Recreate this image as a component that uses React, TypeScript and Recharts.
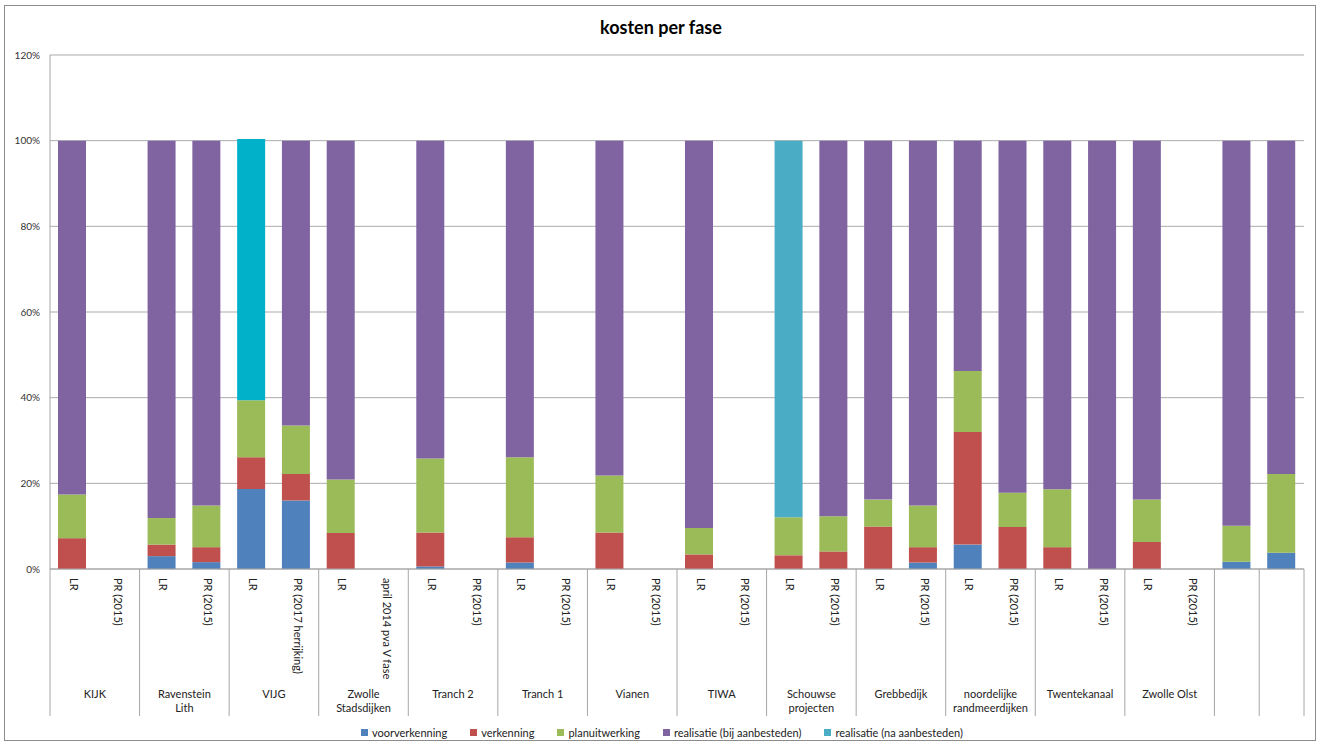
import React from "react";
import { BarChart, Bar, XAxis, YAxis, CartesianGrid, Legend, Cell } from "recharts";

// group each category belongs to (last two bars have their own unnamed group)
const groupNames = [
  "KIJK", "Ravenstein\nLith", "VIJG", "Zwolle\nStadsdijken", "Tranch 2", "Tranch 1", "Vianen",
  "TIWA", "Schouwse\nprojecten", "Grebbedijk", "noordelijke\nrandmeerdijken", "Twentekanaal",
  "Zwolle Olst", "", "",
];
const groupOf = [0, 0, 1, 1, 2, 2, 3, 3, 4, 4, 5, 5, 6, 6, 7, 7, 8, 8, 9, 9, 10, 10, 11, 11, 12, 12, 13, 14];
const subLabels = [
  "LR", "PR (2015)", "LR", "PR (2015)", "LR", "PR (2017  herrijking)", "LR", "april 2014 pva V fase",
  "LR", "PR (2015)", "LR", "PR (2015)", "LR", "PR (2015)", "LR", "PR (2015)", "LR", "PR (2015)",
  "LR", "PR (2015)", "LR", "PR (2015)", "LR", "PR (2015)", "LR", "PR (2015)", "", "",
];

// share per phase, in %
const voorverkenning = [0, 0, 3.0, 1.6, 18.7, 16.0, 0, 0, 0.6, 0, 1.5, 0, 0, 0, 0, 0, 0, 0, 0, 1.5, 5.7, 0, 0, 0, 0, 0, 1.7, 3.8];
const verkenning = [7.2, 0, 2.7, 3.5, 7.4, 6.2, 8.4, 0, 7.9, 0, 5.9, 0, 8.5, 0, 3.4, 0, 3.2, 4.1, 9.9, 3.6, 26.3, 9.8, 5.1, 0, 6.3, 0, 0, 0];
const planuitwerking = [10.2, 0, 6.2, 9.7, 13.3, 11.3, 12.5, 0, 17.3, 0, 18.7, 0, 13.3, 0, 6.2, 0, 8.9, 8.2, 6.3, 9.7, 14.2, 8.0, 13.5, 0, 9.9, 0, 8.4, 18.4];
const realisatieBij = [82.6, 0, 88.1, 85.2, 0, 66.5, 79.1, 0, 74.2, 0, 73.9, 0, 78.2, 0, 90.4, 0, 0, 87.7, 83.8, 85.2, 53.8, 82.2, 81.4, 100, 83.8, 0, 89.9, 77.8];
const realisatieNa = [0, 0, 0, 0, 61.0, 0, 0, 0, 0, 0, 0, 0, 0, 0, 0, 0, 87.9, 0, 0, 0, 0, 0, 0, 0, 0, 0, 0, 0];

const yTicks = [0, 20, 40, 60, 80, 100, 120];

const data = subLabels.map((s, i) => ({
  cat: `${i}`,
  voorverkenning: voorverkenning[i],
  verkenning: verkenning[i],
  planuitwerking: planuitwerking[i],
  realisatieBij: realisatieBij[i],
  realisatieNa: realisatieNa[i],
}));

const series = [
  { key: "voorverkenning", name: "voorverkenning", color: "#4F81BD" },
  { key: "verkenning", name: "verkenning", color: "#C0504D" },
  { key: "planuitwerking", name: "planuitwerking", color: "#9BBB59" },
  { key: "realisatieBij", name: "realisatie (bij aanbesteden)", color: "#8064A2" },
  { key: "realisatieNa", name: "realisatie (na aanbesteden)", color: "#4BACC6" },
];

const FONT = "Lato, 'Liberation Sans', sans-serif";
const W = 1322;
const H = 747;
const M = { top: 55, right: 18, left: 0, bottom: 7 };
const Y_W = 50;
const BAND = (W - M.right - M.left - Y_W) / subLabels.length;

function CategoryTick(props: any) {
  const { x, y, index } = props;
  const i = index;
  const g = groupOf[i];
  const isStart = i === 0 || groupOf[i - 1] !== g;
  const size = groupOf.filter((v) => v === g).length;
  const lines = groupNames[g].split("\n");
  const left = x - BAND / 2;
  return (
    <g>
      <text
        x={x}
        y={y + 9}
        transform={`rotate(90 ${x} ${y + 9})`}
        fontSize={11}
        fill="#222"
        fontFamily={FONT}
        textAnchor="start"
        dominantBaseline="middle"
      >
        {subLabels[i]}
      </text>
      {isStart && (
        <>
          <line x1={left} x2={left} y1={y} y2={y + 147} stroke="#A6A6A6" />
          {lines.map((l, k) => (
            <text
              key={k}
              x={left + (size * BAND) / 2}
              y={y + 126 + k * 14}
              fontSize={11}
              fill="#222"
              fontFamily={FONT}
              textAnchor="middle"
              dominantBaseline="middle"
            >
              {l}
            </text>
          ))}
        </>
      )}
      {i === subLabels.length - 1 && (
        <line x1={x + BAND / 2} x2={x + BAND / 2} y1={y} y2={y + 147} stroke="#A6A6A6" />
      )}
    </g>
  );
}

function LegendContent() {
  return (
    <div style={{ display: "flex", alignItems: "center", height: 16, fontFamily: FONT, fontSize: 11, color: "#222" }}>
      {series.map((s) => (
        <span key={s.key} style={{ display: "inline-flex", alignItems: "center", marginRight: 23 }}>
          <span style={{ width: 7, height: 7, background: s.color, marginRight: 4, display: "inline-block" }} />
          {s.name}
        </span>
      ))}
    </div>
  );
}

export default function App() {
  return (
    <div style={{ position: "absolute", left: 0, top: 0, width: W, height: H, background: "#fff" }}>
      <div
        style={{
          position: "absolute", left: 4, top: 5, width: 1312, height: 736,
          border: "1px solid #8c8c8c", boxSizing: "border-box",
        }}
      />
      <div
        style={{
          position: "absolute", left: 0, top: 16, width: W, textAlign: "center",
          fontFamily: FONT, fontWeight: 700, fontSize: 18, color: "#000",
        }}
      >
        kosten per fase
      </div>
      <div style={{ position: "absolute", left: 0, top: 0 }}>
        <BarChart width={W} height={H} data={data} margin={M} barSize={28}>
          <CartesianGrid vertical={false} stroke="#ABABAB" />
          <XAxis
            dataKey="cat"
            interval={0}
            tickSize={0}
            tickMargin={0}
            height={155}
            stroke="#A6A6A6"
            tick={<CategoryTick />}
          />
          <YAxis
            width={Y_W}
            domain={[0, 120]}
            ticks={yTicks}
            tickFormatter={(v) => `${v}%`}
            tickLine={false}
            tickSize={0}
            tickMargin={10}
            stroke="#A6A6A6"
            tick={{ fontSize: 10, fill: "#333", fontFamily: FONT }}
          />
          <Legend
            verticalAlign="bottom"
            content={<LegendContent />}
            wrapperStyle={{ left: 361, bottom: 7, width: "auto" }}
          />
          {series.map((s) => (
            <Bar key={s.key} dataKey={s.key} name={s.name} stackId="a" fill={s.color} isAnimationActive={false}>
              {s.key === "realisatieNa" &&
                data.map((_, i) => <Cell key={i} fill={i === 4 ? "#00B1C9" : s.color} />)}
            </Bar>
          ))}
        </BarChart>
      </div>
    </div>
  );
}
